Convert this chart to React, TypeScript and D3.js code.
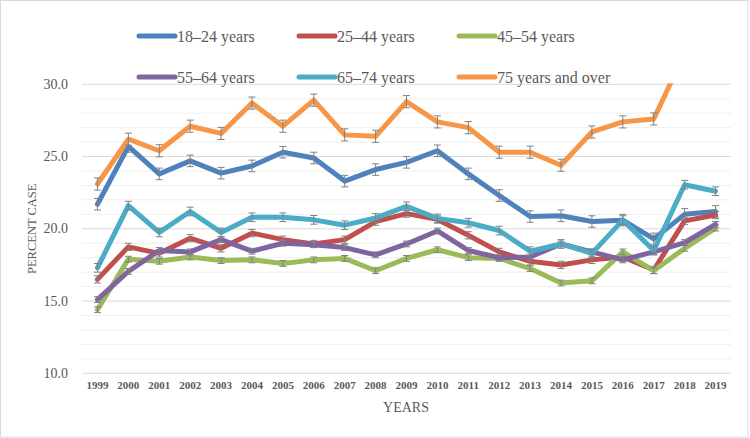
import * as d3 from 'd3';

const years = [
  '1999', '2000', '2001', '2002', '2003', '2004', '2005', '2006', '2007', '2008', '2009',
  '2010', '2011', '2012', '2013', '2014', '2015', '2016', '2017', '2018', '2019',
];

const age18to24 = [21.7, 25.7, 23.8, 24.7, 23.85, 24.35, 25.3, 24.9, 23.3, 24.1, 24.6, 25.4, 23.8, 22.3, 20.85, 20.9, 20.5, 20.6, 19.3, 21.0, 21.2];
const age25to44 = [16.5, 18.75, 18.3, 19.35, 18.65, 19.7, 19.25, 18.95, 19.25, 20.5, 21.05, 20.65, 19.55, 18.4, 17.75, 17.5, 17.85, 18.05, 17.15, 20.55, 20.95];
const age45to54 = [14.4, 17.9, 17.75, 18.05, 17.8, 17.85, 17.6, 17.85, 17.95, 17.1, 17.95, 18.55, 18.0, 17.95, 17.25, 16.25, 16.4, 18.4, 17.1, 18.65, 20.05];
const age55to64 = [15.1, 17.05, 18.5, 18.4, 19.25, 18.45, 19.0, 18.9, 18.7, 18.2, 18.95, 19.85, 18.5, 18.0, 18.05, 18.95, 18.4, 17.85, 18.4, 19.05, 20.3];
const age65to74 = [17.3, 21.6, 19.75, 21.2, 19.75, 20.8, 20.8, 20.62, 20.25, 20.75, 21.55, 20.72, 20.42, 19.88, 18.45, 18.95, 18.3, 20.6, 18.5, 23.05, 22.6];
const age75plus = [23.1, 26.2, 25.4, 27.1, 26.6, 28.7, 27.1, 28.9, 26.5, 26.4, 28.8, 27.4, 27.0, 25.3, 25.3, 24.4, 26.7, 27.4, 27.6, 32.15, 33.0];

const seriesNames = ['18–24 years', '25–44 years', '45–54 years', '55–64 years', '65–74 years', '75 years and over'];
const seriesColors = ['#4f81bd', '#c0504d', '#9bbb59', '#8064a2', '#4bacc6', '#f79646'];
const seriesErrors = [0.4, 0.25, 0.2, 0.2, 0.3, 0.42];
const seriesValues = [age18to24, age25to44, age45to54, age55to64, age65to74, age75plus];

const yTicks = [10, 15, 20, 25, 30];

const width = 750,
  height = 438;
const plot = { left: 82, right: 731, top: 84.3, bottom: 373.3 };

const font = '"Liberation Serif", "DejaVu Serif", serif';
const textColor = '#595959';

export default function App() {
  const xScale = d3.scaleBand().domain(years).range([plot.left, plot.right]);
  const yScale = d3.scaleLinear().domain([10, 30]).range([plot.bottom, plot.top]);
  const cx = (y: string) => xScale(y)! + xScale.bandwidth() / 2;
  const line = d3
    .line<number>()
    .x((_, i) => cx(years[i]))
    .y((d) => yScale(d));

  const minorTicks = d3.range(10, 31, 1).filter((d) => d % 5 !== 0);

  return (
    <div style={{ position: 'absolute', left: 0, top: 0 }}>
      <svg width={width} height={height} viewBox={`0 0 ${width} ${height}`} style={{ display: 'block' }}>
        <rect x={0} y={0} width={width} height={height} fill="white" />
        <rect x={0.5} y={0.5} width={747.5} height={436.5} fill="none" stroke="#d9d9d9" />
        <defs>
          <clipPath id="plotClip">
            <rect x={0} y={plot.top - 1} width={width} height={plot.bottom - plot.top + 20} />
          </clipPath>
        </defs>

        {/* gridlines */}
        {minorTicks.map((d) => (
          <line key={'m' + d} x1={plot.left} x2={plot.right} y1={yScale(d)} y2={yScale(d)} stroke="#efefef" strokeWidth={1} />
        ))}
        {yTicks.map((d) => (
          <g key={d}>
            <line x1={plot.left} x2={plot.right} y1={yScale(d)} y2={yScale(d)} stroke="#d9d9d9" strokeWidth={1} />
            <text x={68} y={yScale(d)} textAnchor="end" dominantBaseline="central" fontFamily={font} fontSize={14} fill={textColor}>
              {d.toFixed(1)}
            </text>
          </g>
        ))}

        {/* x labels */}
        {years.map((y) => (
          <text key={y} x={cx(y)} y={389} textAnchor="middle" fontFamily={font} fontWeight="bold" fontSize={11} fill={textColor}>
            {y}
          </text>
        ))}

        {/* series */}
        <g clipPath="url(#plotClip)">
          {seriesValues.map((vals, si) => (
            <g key={si}>
              <path d={line(vals)!} fill="none" stroke={seriesColors[si]} strokeWidth={5} strokeLinejoin="round" strokeLinecap="round" />
              {vals.map((v, i) => {
                const x = cx(years[i]);
                const y0 = yScale(v - seriesErrors[si]);
                const y1 = yScale(v + seriesErrors[si]);
                return (
                  <g key={i} stroke="#808080" strokeWidth={1}>
                    <line x1={x} x2={x} y1={y0} y2={y1} />
                    <line x1={x - 3.5} x2={x + 3.5} y1={y0} y2={y0} />
                    <line x1={x - 3.5} x2={x + 3.5} y1={y1} y2={y1} />
                  </g>
                );
              })}
            </g>
          ))}
        </g>

        {/* axis titles */}
        <text x={406} y={412} textAnchor="middle" fontFamily={font} fontSize={14} fill={textColor}>
          YEARS
        </text>
        <text
          transform={`translate(36, ${(plot.top + plot.bottom) / 2}) rotate(-90)`}
          textAnchor="middle"
          fontFamily={font}
          fontSize={12.5}
          fill={textColor}
        >
          PERCENT CASE
        </text>

        {/* legend */}
        {seriesNames.map((name, i) => {
          const col = i % 3;
          const row = Math.floor(i / 3);
          const lx = [139, 299, 459][col];
          const ly = [36, 77][row];
          return (
            <g key={name}>
              <line x1={lx} x2={lx + 36} y1={ly} y2={ly} stroke={seriesColors[i]} strokeWidth={5} strokeLinecap="round" />
              <text x={lx + 38} y={ly} dominantBaseline="central" fontFamily={font} fontSize={16} fill={textColor}>
                {name}
              </text>
            </g>
          );
        })}
      </svg>
    </div>
  );
}
